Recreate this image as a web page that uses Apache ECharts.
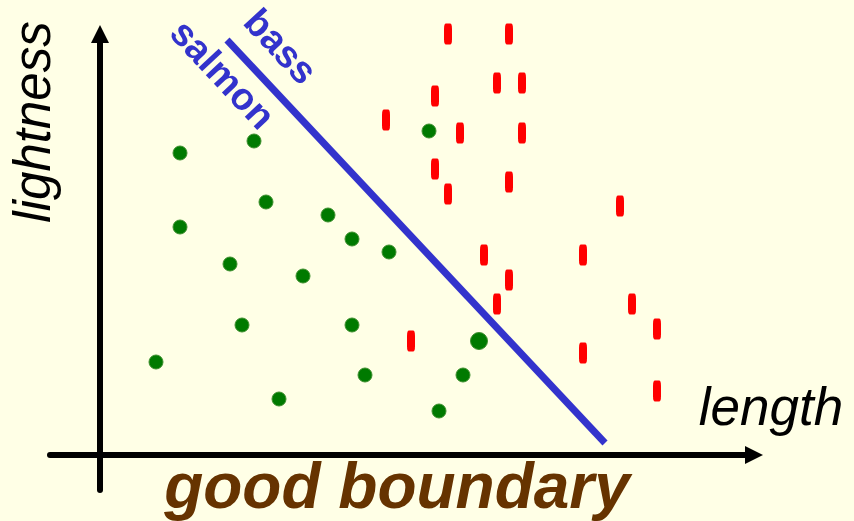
<!DOCTYPE html>
<html>
<head>
<meta charset="utf-8">
<script src="https://cdn.jsdelivr.net/npm/echarts@6/dist/echarts.min.js"></script>
<style>
  html, body { margin: 0; padding: 0; background: #FFFFE6; }
  #chart { width: 854px; height: 521px; }
</style>
</head>
<body>
<div id="chart"></div>
<script>
// salmon (green dots): [length, lightness]
var salmon = [
  [8.0, 30.2], [15.4, 31.4], [32.9, 32.4], [16.6, 25.3], [8.0, 22.8],
  [22.8, 24.0], [25.2, 21.6], [28.9, 20.3], [13.0, 19.1], [20.3, 17.9],
  [14.2, 13.0], [25.2, 13.0], [5.6, 9.3], [26.5, 8.0], [36.3, 8.0],
  [17.9, 5.6], [33.9, 4.4]
];
var salmonBig = [[37.9, 11.4]];

// bass (red dashes)
var bass = [
  [34.8, 42.1], [40.9, 42.1], [39.7, 37.2], [42.2, 37.2], [33.5, 35.9],
  [28.6, 33.5], [36.0, 32.2], [42.2, 32.2], [33.5, 28.6], [40.9, 27.3],
  [34.8, 26.1], [52.0, 24.9], [38.4, 20.0], [48.3, 20.0], [40.9, 17.5],
  [39.7, 15.1], [53.2, 15.1], [55.7, 12.6], [31.1, 11.4], [48.3, 10.2],
  [55.7, 6.4]
];

// the decision boundary
var boundary = [[12.7, 41.5], [50.5, 1.2]];

var chart = echarts.init(document.getElementById('chart'));

var axisStyle = {
  onZero: true,
  symbol: ['none', 'triangle'],
  symbolSize: [18, 18],
  lineStyle: { color: '#000', width: 6 }
};

chart.setOption({
  backgroundColor: '#FFFFE6',
  animation: false,
  grid: { left: 50, right: 100, top: 34, bottom: 31 },
  xAxis: {
    type: 'value', min: -5, max: 65.4,
    axisLine: axisStyle,
    axisTick: { show: false }, axisLabel: { show: false }, splitLine: { show: false }
  },
  yAxis: {
    type: 'value', min: -3.5, max: 42.1,
    axisLine: axisStyle,
    axisTick: { show: false }, axisLabel: { show: false }, splitLine: { show: false }
  },
  series: [
    {
      type: 'line', data: boundary, symbol: 'none',
      lineStyle: { color: '#3333CC', width: 7, cap: 'butt' },
      z: 3
    },
    {
      type: 'scatter', data: bass, symbol: 'roundRect', symbolSize: [8, 21],
      itemStyle: { color: '#FF0000', opacity: 1 }, clip: false
    },
    {
      type: 'scatter', data: salmon, symbol: 'circle', symbolSize: 14,
      itemStyle: { color: '#007A00', borderColor: '#3D8F2E', borderWidth: 1, opacity: 1 }, clip: false
    },
    {
      type: 'scatter', data: salmonBig, symbol: 'circle', symbolSize: 17,
      itemStyle: { color: '#007A00', borderColor: '#3D8F2E', borderWidth: 1, opacity: 1 }, clip: false
    }
  ],
  graphic: [
    {
      type: 'text', x: 221, y: 76, rotation: -0.82,
      style: { text: 'salmon', font: 'bold 38px "Liberation Sans", Arial', fill: '#3333CC',
        align: 'center', verticalAlign: 'middle' }
    },
    {
      type: 'text', x: 279, y: 48, rotation: -0.82,
      style: { text: 'bass', font: 'bold 38px "Liberation Sans", Arial', fill: '#3333CC',
        align: 'center', verticalAlign: 'middle' }
    },
    {
      type: 'text', x: 36, y: 122, rotation: Math.PI / 2,
      style: { text: 'lightness', font: 'italic 51px "Liberation Sans", Arial', fill: '#000',
        align: 'center', verticalAlign: 'middle' }
    },
    {
      type: 'text', x: 771, y: 410,
      style: { text: 'length', font: 'italic 53px "Liberation Sans", Arial', fill: '#000',
        align: 'center', verticalAlign: 'middle' }
    },
    {
      type: 'text', x: 397, y: 490,
      style: { text: 'good boundary', font: 'italic bold 64px "Liberation Sans", Arial', fill: '#663300',
        align: 'center', verticalAlign: 'middle' }
    }
  ]
});
</script>
</body>
</html>
